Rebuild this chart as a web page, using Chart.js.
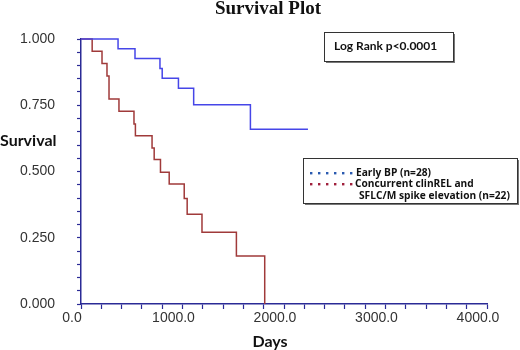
<!DOCTYPE html>
<html>
<head>
<meta charset="utf-8">
<script src="https://cdn.jsdelivr.net/npm/chart.js@4.4.1/dist/chart.umd.min.js"></script>
<style>
html,body{margin:0;padding:0;background:#fff;}
#wrap{width:520px;height:350px;}
</style>
</head>
<body>
<div id="wrap"><canvas id="c" width="520" height="350"></canvas></div>
<script>
// ---- data ----
const chartTitle = "Survival Plot";
const xTitle = "Days";
const yTitle = "Survival";
const pValueText = "Log Rank p<0.0001";

const earlyLabel = "Early BP (n=28)";
const earlyDays = [0, 365, 532, 778, 800, 960, 1110, 1669, 2236];
const earlySurv = [1.000, 0.963, 0.926, 0.889, 0.852, 0.814, 0.752, 0.659, 0.659];

const concLabelLines = ["Concurrent clinREL and", "SFLC/M spike elevation (n=22)"];
const concDays = [0, 110, 207, 256, 276, 374, 522, 536, 700, 721, 783, 869, 1017, 1046, 1192, 1531, 1810];
const concSurv = [1.000, 0.954, 0.908, 0.860, 0.774, 0.727, 0.679, 0.635, 0.589, 0.545, 0.497, 0.453, 0.398, 0.339, 0.271, 0.181, 0.000];

const xMin = 0, xMax = 4000, xStep = 200, xLabelEvery = 1000;
const yMin = 0, yMax = 1, yStep = 0.05, yLabelEvery = 0.25;

// ---- styles ----
const axisColor = "#2b2b96";
const blueColor = "#4646e8";
const redColor = "#a03a3a";
const tickFont = {family: "'Liberation Sans', Arial, sans-serif", size: 14};

function toPts(xs, ys){ return xs.map((x,i)=>({x:x, y:ys[i]})); }

const overlay = {
  id: 'overlay',
  afterDraw(chart){
    const ctx = chart.ctx;
    ctx.save();
    // title
    ctx.fillStyle = "#111";
    ctx.font = "bold 19px 'Liberation Serif', serif";
    ctx.textAlign = "center"; ctx.textBaseline = "alphabetic";
    ctx.fillText(chartTitle, 268, 14);
    // y title (horizontal)
    ctx.font = "bold 16px Lato, 'Open Sans', sans-serif";
    ctx.textAlign = "left";
    ctx.fillStyle = "#111";
    ctx.fillText(yTitle, 0, 146);
    // x title
    ctx.textAlign = "center";
    ctx.fillText(xTitle, 270, 347);

    // boxes with shadow
    function box(x, y, w, h){
      ctx.fillStyle = "#777";
      ctx.fillRect(x+2, y+2, w, h);
      ctx.fillStyle = "#fff";
      ctx.fillRect(x, y, w, h);
      ctx.strokeStyle = "#333"; ctx.lineWidth = 1;
      ctx.strokeRect(x+0.5, y+0.5, w, h);
    }
    box(324, 32, 129, 29);
    ctx.fillStyle = "#111";
    ctx.font = "bold 12px Lato, 'Open Sans', sans-serif";
    ctx.textAlign = "left";
    ctx.fillText(pValueText, 334, 50);

    // legend box
    box(303, 158, 214, 45);
    ctx.font = "bold 10.2px 'Open Sans', Lato, sans-serif";
    ctx.fillStyle = "#111";
    ctx.fillText(earlyLabel, 356, 176);
    ctx.fillText(concLabelLines[0], 355, 187);
    ctx.fillText(concLabelLines[1], 359, 198.5);
    function dots(y, col){
      ctx.fillStyle = col;
      for(let i=0;i<6;i++){ ctx.fillRect(310 + i*8, y-1, 2.4, 2.4); }
    }
    dots(173, "#2a5ab0");
    dots(184, "#a0203c");
    ctx.restore();
  }
};

new Chart(document.getElementById('c'), {
  type: 'line',
  data: {
    datasets: [
      {label: earlyLabel, data: toPts(earlyDays, earlySurv), borderColor: blueColor, borderWidth: 1.5, stepped: true, pointRadius: 0, fill: false, clip: 5},
      {label: concLabelLines.join(' '), data: toPts(concDays, concSurv), borderColor: redColor, borderWidth: 1.5, stepped: true, pointRadius: 0, fill: false, clip: 5}
    ]
  },
  options: {
    responsive: false,
    animation: false,
    devicePixelRatio: 1,
    layout: {padding: {left: 0, top: 39, right: 33, bottom: 0}},
    plugins: {legend: {display: false}, title: {display: false}, tooltip: {enabled: false}},
    scales: {
      x: {
        type: 'linear', min: xMin, max: xMax,
        afterFit: s => { s.height = 46; },
        border: {color: axisColor, width: 1.5},
        grid: {drawOnChartArea: false, drawTicks: true, tickLength: 5, color: axisColor, tickColor: axisColor, tickWidth: 1.2},
        ticks: {
          stepSize: xStep, autoSkip: false, maxRotation: 0, color: "#333", font: tickFont, padding: 1, labelOffset: -9,
          callback: v => (Math.abs(v/xLabelEvery - Math.round(v/xLabelEvery)) < 1e-6) ? v.toFixed(1) : ''
        }
      },
      y: {
        type: 'linear', min: yMin, max: yMax,
        afterFit: s => { s.width = 81; },
        border: {color: axisColor, width: 1.5},
        grid: {drawOnChartArea: false, drawTicks: true, tickLength: 4, color: axisColor, tickColor: axisColor, tickWidth: 1.2},
        ticks: {
          stepSize: yStep, autoSkip: false, color: "#333", font: tickFont, padding: 22,
          callback: v => (Math.abs(v/yLabelEvery - Math.round(v/yLabelEvery)) < 1e-6) ? v.toFixed(3) : ''
        }
      }
    }
  },
  plugins: [overlay]
});
</script>
</body>
</html>
